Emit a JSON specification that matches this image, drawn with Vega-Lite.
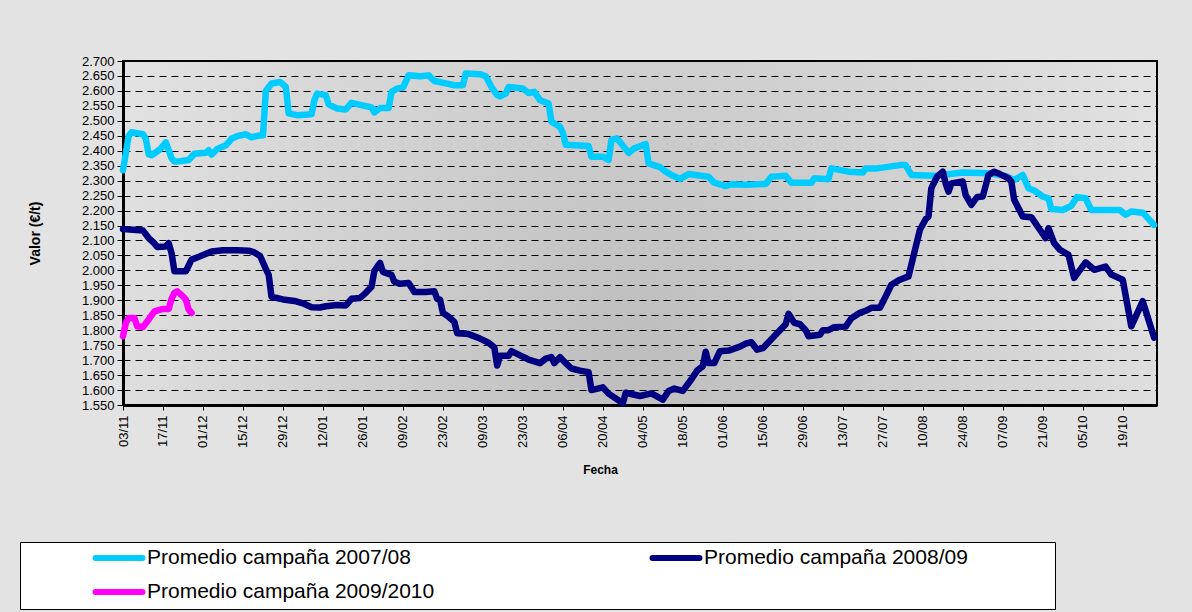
{
  "$schema": "https://vega.github.io/schema/vega-lite/v6.json",
  "width": 1034,
  "height": 344,
  "autosize": "none",
  "padding": {"left": 123, "top": 61, "right": 35, "bottom": 207},
  "background": "#e3e3e3",
  "view": {
    "stroke": "#000000",
    "strokeWidth": 2,
    "fill": {"gradient": "radial", "x1": 0.5, "y1": 0.62, "r1": 0, "x2": 0.5, "y2": 0.62, "r2": 0.62,
      "stops": [{"offset": 0, "color": "#bdbdbd"}, {"offset": 1, "color": "#e6e6e6"}]}
  },
  "config": {
    "font": "Liberation Sans",
    "locale": {"number": {"decimal": ",", "thousands": ".", "grouping": [3], "currency": ["", " €"]}}
  },
  "data": {
    "values": [
      {"serie": "Promedio campaña 2007/08", "fecha": "2008-11-03", "valor": 2335},
      {"serie": "Promedio campaña 2007/08", "fecha": "2008-11-05", "valor": 2450},
      {"serie": "Promedio campaña 2007/08", "fecha": "2008-11-06", "valor": 2462},
      {"serie": "Promedio campaña 2007/08", "fecha": "2008-11-10", "valor": 2455},
      {"serie": "Promedio campaña 2007/08", "fecha": "2008-11-11", "valor": 2440},
      {"serie": "Promedio campaña 2007/08", "fecha": "2008-11-12", "valor": 2388},
      {"serie": "Promedio campaña 2007/08", "fecha": "2008-11-13", "valor": 2385},
      {"serie": "Promedio campaña 2007/08", "fecha": "2008-11-16", "valor": 2405},
      {"serie": "Promedio campaña 2007/08", "fecha": "2008-11-18", "valor": 2428},
      {"serie": "Promedio campaña 2007/08", "fecha": "2008-11-20", "valor": 2375},
      {"serie": "Promedio campaña 2007/08", "fecha": "2008-11-21", "valor": 2364},
      {"serie": "Promedio campaña 2007/08", "fecha": "2008-11-23", "valor": 2365},
      {"serie": "Promedio campaña 2007/08", "fecha": "2008-11-26", "valor": 2369},
      {"serie": "Promedio campaña 2007/08", "fecha": "2008-11-28", "valor": 2390},
      {"serie": "Promedio campaña 2007/08", "fecha": "2008-12-02", "valor": 2393},
      {"serie": "Promedio campaña 2007/08", "fecha": "2008-12-03", "valor": 2402},
      {"serie": "Promedio campaña 2007/08", "fecha": "2008-12-04", "valor": 2387},
      {"serie": "Promedio campaña 2007/08", "fecha": "2008-12-06", "valor": 2406},
      {"serie": "Promedio campaña 2007/08", "fecha": "2008-12-09", "valor": 2418},
      {"serie": "Promedio campaña 2007/08", "fecha": "2008-12-11", "valor": 2440},
      {"serie": "Promedio campaña 2007/08", "fecha": "2008-12-13", "valor": 2449},
      {"serie": "Promedio campaña 2007/08", "fecha": "2008-12-16", "valor": 2455},
      {"serie": "Promedio campaña 2007/08", "fecha": "2008-12-18", "valor": 2445},
      {"serie": "Promedio campaña 2007/08", "fecha": "2008-12-20", "valor": 2450},
      {"serie": "Promedio campaña 2007/08", "fecha": "2008-12-22", "valor": 2452},
      {"serie": "Promedio campaña 2007/08", "fecha": "2008-12-23", "valor": 2600},
      {"serie": "Promedio campaña 2007/08", "fecha": "2008-12-25", "valor": 2625},
      {"serie": "Promedio campaña 2007/08", "fecha": "2008-12-28", "valor": 2630},
      {"serie": "Promedio campaña 2007/08", "fecha": "2008-12-30", "valor": 2613},
      {"serie": "Promedio campaña 2007/08", "fecha": "2008-12-31", "valor": 2525},
      {"serie": "Promedio campaña 2007/08", "fecha": "2009-01-03", "valor": 2519},
      {"serie": "Promedio campaña 2007/08", "fecha": "2009-01-08", "valor": 2522},
      {"serie": "Promedio campaña 2007/08", "fecha": "2009-01-09", "valor": 2569},
      {"serie": "Promedio campaña 2007/08", "fecha": "2009-01-10", "valor": 2591},
      {"serie": "Promedio campaña 2007/08", "fecha": "2009-01-13", "valor": 2586},
      {"serie": "Promedio campaña 2007/08", "fecha": "2009-01-14", "valor": 2555},
      {"serie": "Promedio campaña 2007/08", "fecha": "2009-01-17", "valor": 2541},
      {"serie": "Promedio campaña 2007/08", "fecha": "2009-01-20", "valor": 2538},
      {"serie": "Promedio campaña 2007/08", "fecha": "2009-01-22", "valor": 2560},
      {"serie": "Promedio campaña 2007/08", "fecha": "2009-01-27", "valor": 2549},
      {"serie": "Promedio campaña 2007/08", "fecha": "2009-01-29", "valor": 2545},
      {"serie": "Promedio campaña 2007/08", "fecha": "2009-01-30", "valor": 2528},
      {"serie": "Promedio campaña 2007/08", "fecha": "2009-02-01", "valor": 2543},
      {"serie": "Promedio campaña 2007/08", "fecha": "2009-02-04", "valor": 2543},
      {"serie": "Promedio campaña 2007/08", "fecha": "2009-02-05", "valor": 2597},
      {"serie": "Promedio campaña 2007/08", "fecha": "2009-02-07", "valor": 2608},
      {"serie": "Promedio campaña 2007/08", "fecha": "2009-02-09", "valor": 2611},
      {"serie": "Promedio campaña 2007/08", "fecha": "2009-02-11", "valor": 2652},
      {"serie": "Promedio campaña 2007/08", "fecha": "2009-02-15", "valor": 2649},
      {"serie": "Promedio campaña 2007/08", "fecha": "2009-02-18", "valor": 2652},
      {"serie": "Promedio campaña 2007/08", "fecha": "2009-02-20", "valor": 2633},
      {"serie": "Promedio campaña 2007/08", "fecha": "2009-02-24", "valor": 2625},
      {"serie": "Promedio campaña 2007/08", "fecha": "2009-02-27", "valor": 2619},
      {"serie": "Promedio campaña 2007/08", "fecha": "2009-03-02", "valor": 2619},
      {"serie": "Promedio campaña 2007/08", "fecha": "2009-03-03", "valor": 2658},
      {"serie": "Promedio campaña 2007/08", "fecha": "2009-03-08", "valor": 2656},
      {"serie": "Promedio campaña 2007/08", "fecha": "2009-03-10", "valor": 2649},
      {"serie": "Promedio campaña 2007/08", "fecha": "2009-03-12", "valor": 2613},
      {"serie": "Promedio campaña 2007/08", "fecha": "2009-03-14", "valor": 2586},
      {"serie": "Promedio campaña 2007/08", "fecha": "2009-03-15", "valor": 2582},
      {"serie": "Promedio campaña 2007/08", "fecha": "2009-03-17", "valor": 2591},
      {"serie": "Promedio campaña 2007/08", "fecha": "2009-03-18", "valor": 2613},
      {"serie": "Promedio campaña 2007/08", "fecha": "2009-03-23", "valor": 2608},
      {"serie": "Promedio campaña 2007/08", "fecha": "2009-03-25", "valor": 2593},
      {"serie": "Promedio campaña 2007/08", "fecha": "2009-03-27", "valor": 2597},
      {"serie": "Promedio campaña 2007/08", "fecha": "2009-03-29", "valor": 2569},
      {"serie": "Promedio campaña 2007/08", "fecha": "2009-04-01", "valor": 2558},
      {"serie": "Promedio campaña 2007/08", "fecha": "2009-04-02", "valor": 2497},
      {"serie": "Promedio campaña 2007/08", "fecha": "2009-04-05", "valor": 2480},
      {"serie": "Promedio campaña 2007/08", "fecha": "2009-04-06", "valor": 2460},
      {"serie": "Promedio campaña 2007/08", "fecha": "2009-04-07", "valor": 2420},
      {"serie": "Promedio campaña 2007/08", "fecha": "2009-04-15", "valor": 2416},
      {"serie": "Promedio campaña 2007/08", "fecha": "2009-04-16", "valor": 2380},
      {"serie": "Promedio campaña 2007/08", "fecha": "2009-04-20", "valor": 2380},
      {"serie": "Promedio campaña 2007/08", "fecha": "2009-04-22", "valor": 2369},
      {"serie": "Promedio campaña 2007/08", "fecha": "2009-04-23", "valor": 2436},
      {"serie": "Promedio campaña 2007/08", "fecha": "2009-04-25", "valor": 2441},
      {"serie": "Promedio campaña 2007/08", "fecha": "2009-04-29", "valor": 2393},
      {"serie": "Promedio campaña 2007/08", "fecha": "2009-05-01", "valor": 2408},
      {"serie": "Promedio campaña 2007/08", "fecha": "2009-05-05", "valor": 2422},
      {"serie": "Promedio campaña 2007/08", "fecha": "2009-05-06", "valor": 2358},
      {"serie": "Promedio campaña 2007/08", "fecha": "2009-05-10", "valor": 2345},
      {"serie": "Promedio campaña 2007/08", "fecha": "2009-05-12", "valor": 2330},
      {"serie": "Promedio campaña 2007/08", "fecha": "2009-05-14", "valor": 2319},
      {"serie": "Promedio campaña 2007/08", "fecha": "2009-05-17", "valor": 2306},
      {"serie": "Promedio campaña 2007/08", "fecha": "2009-05-20", "valor": 2322},
      {"serie": "Promedio campaña 2007/08", "fecha": "2009-05-27", "valor": 2313},
      {"serie": "Promedio campaña 2007/08", "fecha": "2009-05-29", "valor": 2293},
      {"serie": "Promedio campaña 2007/08", "fecha": "2009-06-02", "valor": 2282},
      {"serie": "Promedio campaña 2007/08", "fecha": "2009-06-04", "valor": 2288},
      {"serie": "Promedio campaña 2007/08", "fecha": "2009-06-09", "valor": 2286},
      {"serie": "Promedio campaña 2007/08", "fecha": "2009-06-16", "valor": 2289},
      {"serie": "Promedio campaña 2007/08", "fecha": "2009-06-18", "valor": 2313},
      {"serie": "Promedio campaña 2007/08", "fecha": "2009-06-23", "valor": 2316},
      {"serie": "Promedio campaña 2007/08", "fecha": "2009-06-25", "valor": 2293},
      {"serie": "Promedio campaña 2007/08", "fecha": "2009-07-02", "valor": 2293},
      {"serie": "Promedio campaña 2007/08", "fecha": "2009-07-03", "valor": 2308},
      {"serie": "Promedio campaña 2007/08", "fecha": "2009-07-08", "valor": 2305},
      {"serie": "Promedio campaña 2007/08", "fecha": "2009-07-09", "valor": 2341},
      {"serie": "Promedio campaña 2007/08", "fecha": "2009-07-15", "valor": 2330},
      {"serie": "Promedio campaña 2007/08", "fecha": "2009-07-20", "valor": 2327},
      {"serie": "Promedio campaña 2007/08", "fecha": "2009-07-21", "valor": 2341},
      {"serie": "Promedio campaña 2007/08", "fecha": "2009-07-25", "valor": 2341},
      {"serie": "Promedio campaña 2007/08", "fecha": "2009-08-02", "valor": 2352},
      {"serie": "Promedio campaña 2007/08", "fecha": "2009-08-04", "valor": 2352},
      {"serie": "Promedio campaña 2007/08", "fecha": "2009-08-06", "valor": 2319},
      {"serie": "Promedio campaña 2007/08", "fecha": "2009-08-14", "valor": 2316},
      {"serie": "Promedio campaña 2007/08", "fecha": "2009-08-24", "valor": 2327},
      {"serie": "Promedio campaña 2007/08", "fecha": "2009-09-02", "valor": 2325},
      {"serie": "Promedio campaña 2007/08", "fecha": "2009-09-08", "valor": 2316},
      {"serie": "Promedio campaña 2007/08", "fecha": "2009-09-11", "valor": 2302},
      {"serie": "Promedio campaña 2007/08", "fecha": "2009-09-14", "valor": 2319},
      {"serie": "Promedio campaña 2007/08", "fecha": "2009-09-16", "valor": 2275},
      {"serie": "Promedio campaña 2007/08", "fecha": "2009-09-18", "valor": 2267},
      {"serie": "Promedio campaña 2007/08", "fecha": "2009-09-21", "valor": 2247},
      {"serie": "Promedio campaña 2007/08", "fecha": "2009-09-23", "valor": 2241},
      {"serie": "Promedio campaña 2007/08", "fecha": "2009-09-24", "valor": 2205},
      {"serie": "Promedio campaña 2007/08", "fecha": "2009-09-28", "valor": 2202},
      {"serie": "Promedio campaña 2007/08", "fecha": "2009-10-01", "valor": 2216},
      {"serie": "Promedio campaña 2007/08", "fecha": "2009-10-03", "valor": 2245},
      {"serie": "Promedio campaña 2007/08", "fecha": "2009-10-06", "valor": 2241},
      {"serie": "Promedio campaña 2007/08", "fecha": "2009-10-08", "valor": 2202},
      {"serie": "Promedio campaña 2007/08", "fecha": "2009-10-18", "valor": 2202},
      {"serie": "Promedio campaña 2007/08", "fecha": "2009-10-20", "valor": 2186},
      {"serie": "Promedio campaña 2007/08", "fecha": "2009-10-22", "valor": 2197},
      {"serie": "Promedio campaña 2007/08", "fecha": "2009-10-26", "valor": 2193},
      {"serie": "Promedio campaña 2007/08", "fecha": "2009-10-30", "valor": 2152},

      {"serie": "Promedio campaña 2008/09", "fecha": "2008-11-03", "valor": 2138},
      {"serie": "Promedio campaña 2008/09", "fecha": "2008-11-10", "valor": 2133},
      {"serie": "Promedio campaña 2008/09", "fecha": "2008-11-12", "valor": 2108},
      {"serie": "Promedio campaña 2008/09", "fecha": "2008-11-14", "valor": 2090},
      {"serie": "Promedio campaña 2008/09", "fecha": "2008-11-15", "valor": 2078},
      {"serie": "Promedio campaña 2008/09", "fecha": "2008-11-18", "valor": 2080},
      {"serie": "Promedio campaña 2008/09", "fecha": "2008-11-19", "valor": 2091},
      {"serie": "Promedio campaña 2008/09", "fecha": "2008-11-20", "valor": 2058},
      {"serie": "Promedio campaña 2008/09", "fecha": "2008-11-21", "valor": 1997},
      {"serie": "Promedio campaña 2008/09", "fecha": "2008-11-25", "valor": 1997},
      {"serie": "Promedio campaña 2008/09", "fecha": "2008-11-27", "valor": 2036},
      {"serie": "Promedio campaña 2008/09", "fecha": "2008-11-30", "valor": 2047},
      {"serie": "Promedio campaña 2008/09", "fecha": "2008-12-04", "valor": 2063},
      {"serie": "Promedio campaña 2008/09", "fecha": "2008-12-08", "valor": 2067},
      {"serie": "Promedio campaña 2008/09", "fecha": "2008-12-13", "valor": 2067},
      {"serie": "Promedio campaña 2008/09", "fecha": "2008-12-17", "valor": 2066},
      {"serie": "Promedio campaña 2008/09", "fecha": "2008-12-19", "valor": 2060},
      {"serie": "Promedio campaña 2008/09", "fecha": "2008-12-21", "valor": 2048},
      {"serie": "Promedio campaña 2008/09", "fecha": "2008-12-23", "valor": 2005},
      {"serie": "Promedio campaña 2008/09", "fecha": "2008-12-24", "valor": 1985},
      {"serie": "Promedio campaña 2008/09", "fecha": "2008-12-25", "valor": 1912},
      {"serie": "Promedio campaña 2008/09", "fecha": "2008-12-29", "valor": 1903},
      {"serie": "Promedio campaña 2008/09", "fecha": "2009-01-02", "valor": 1898},
      {"serie": "Promedio campaña 2008/09", "fecha": "2009-01-05", "valor": 1890},
      {"serie": "Promedio campaña 2008/09", "fecha": "2009-01-08", "valor": 1877},
      {"serie": "Promedio campaña 2008/09", "fecha": "2009-01-11", "valor": 1876},
      {"serie": "Promedio campaña 2008/09", "fecha": "2009-01-13", "valor": 1880},
      {"serie": "Promedio campaña 2008/09", "fecha": "2009-01-17", "valor": 1884},
      {"serie": "Promedio campaña 2008/09", "fecha": "2009-01-20", "valor": 1883},
      {"serie": "Promedio campaña 2008/09", "fecha": "2009-01-22", "valor": 1905},
      {"serie": "Promedio campaña 2008/09", "fecha": "2009-01-25", "valor": 1908},
      {"serie": "Promedio campaña 2008/09", "fecha": "2009-01-27", "valor": 1925},
      {"serie": "Promedio campaña 2008/09", "fecha": "2009-01-29", "valor": 1945},
      {"serie": "Promedio campaña 2008/09", "fecha": "2009-01-30", "valor": 1998},
      {"serie": "Promedio campaña 2008/09", "fecha": "2009-02-01", "valor": 2025},
      {"serie": "Promedio campaña 2008/09", "fecha": "2009-02-02", "valor": 1995},
      {"serie": "Promedio campaña 2008/09", "fecha": "2009-02-05", "valor": 1985},
      {"serie": "Promedio campaña 2008/09", "fecha": "2009-02-06", "valor": 1962},
      {"serie": "Promedio campaña 2008/09", "fecha": "2009-02-08", "valor": 1955},
      {"serie": "Promedio campaña 2008/09", "fecha": "2009-02-11", "valor": 1958},
      {"serie": "Promedio campaña 2008/09", "fecha": "2009-02-13", "valor": 1928},
      {"serie": "Promedio campaña 2008/09", "fecha": "2009-02-17", "valor": 1928},
      {"serie": "Promedio campaña 2008/09", "fecha": "2009-02-20", "valor": 1930},
      {"serie": "Promedio campaña 2008/09", "fecha": "2009-02-21", "valor": 1905},
      {"serie": "Promedio campaña 2008/09", "fecha": "2009-02-22", "valor": 1902},
      {"serie": "Promedio campaña 2008/09", "fecha": "2009-02-23", "valor": 1858},
      {"serie": "Promedio campaña 2008/09", "fecha": "2009-02-25", "valor": 1845},
      {"serie": "Promedio campaña 2008/09", "fecha": "2009-02-27", "valor": 1828},
      {"serie": "Promedio campaña 2008/09", "fecha": "2009-02-28", "valor": 1790},
      {"serie": "Promedio campaña 2008/09", "fecha": "2009-03-04", "valor": 1787},
      {"serie": "Promedio campaña 2008/09", "fecha": "2009-03-08", "valor": 1772},
      {"serie": "Promedio campaña 2008/09", "fecha": "2009-03-11", "valor": 1758},
      {"serie": "Promedio campaña 2008/09", "fecha": "2009-03-13", "valor": 1742},
      {"serie": "Promedio campaña 2008/09", "fecha": "2009-03-14", "valor": 1682},
      {"serie": "Promedio campaña 2008/09", "fecha": "2009-03-15", "valor": 1715},
      {"serie": "Promedio campaña 2008/09", "fecha": "2009-03-18", "valor": 1715},
      {"serie": "Promedio campaña 2008/09", "fecha": "2009-03-19", "valor": 1730},
      {"serie": "Promedio campaña 2008/09", "fecha": "2009-03-22", "valor": 1716},
      {"serie": "Promedio campaña 2008/09", "fecha": "2009-03-25", "valor": 1702},
      {"serie": "Promedio campaña 2008/09", "fecha": "2009-03-29", "valor": 1690},
      {"serie": "Promedio campaña 2008/09", "fecha": "2009-03-31", "valor": 1705},
      {"serie": "Promedio campaña 2008/09", "fecha": "2009-04-02", "valor": 1710},
      {"serie": "Promedio campaña 2008/09", "fecha": "2009-04-03", "valor": 1690},
      {"serie": "Promedio campaña 2008/09", "fecha": "2009-04-05", "valor": 1710},
      {"serie": "Promedio campaña 2008/09", "fecha": "2009-04-07", "valor": 1690},
      {"serie": "Promedio campaña 2008/09", "fecha": "2009-04-09", "valor": 1672},
      {"serie": "Promedio campaña 2008/09", "fecha": "2009-04-12", "valor": 1665},
      {"serie": "Promedio campaña 2008/09", "fecha": "2009-04-15", "valor": 1660},
      {"serie": "Promedio campaña 2008/09", "fecha": "2009-04-16", "valor": 1600},
      {"serie": "Promedio campaña 2008/09", "fecha": "2009-04-20", "valor": 1609},
      {"serie": "Promedio campaña 2008/09", "fecha": "2009-04-22", "valor": 1588},
      {"serie": "Promedio campaña 2008/09", "fecha": "2009-04-27", "valor": 1556},
      {"serie": "Promedio campaña 2008/09", "fecha": "2009-04-28", "valor": 1591},
      {"serie": "Promedio campaña 2008/09", "fecha": "2009-05-03", "valor": 1580},
      {"serie": "Promedio campaña 2008/09", "fecha": "2009-05-07", "valor": 1589},
      {"serie": "Promedio campaña 2008/09", "fecha": "2009-05-11", "valor": 1568},
      {"serie": "Promedio campaña 2008/09", "fecha": "2009-05-13", "valor": 1597},
      {"serie": "Promedio campaña 2008/09", "fecha": "2009-05-15", "valor": 1605},
      {"serie": "Promedio campaña 2008/09", "fecha": "2009-05-18", "valor": 1597},
      {"serie": "Promedio campaña 2008/09", "fecha": "2009-05-21", "valor": 1636},
      {"serie": "Promedio campaña 2008/09", "fecha": "2009-05-23", "valor": 1665},
      {"serie": "Promedio campaña 2008/09", "fecha": "2009-05-25", "valor": 1680},
      {"serie": "Promedio campaña 2008/09", "fecha": "2009-05-26", "valor": 1728},
      {"serie": "Promedio campaña 2008/09", "fecha": "2009-05-27", "valor": 1690},
      {"serie": "Promedio campaña 2008/09", "fecha": "2009-05-29", "valor": 1690},
      {"serie": "Promedio campaña 2008/09", "fecha": "2009-05-31", "valor": 1730},
      {"serie": "Promedio campaña 2008/09", "fecha": "2009-06-03", "valor": 1732},
      {"serie": "Promedio campaña 2008/09", "fecha": "2009-06-07", "valor": 1745},
      {"serie": "Promedio campaña 2008/09", "fecha": "2009-06-09", "valor": 1755},
      {"serie": "Promedio campaña 2008/09", "fecha": "2009-06-11", "valor": 1760},
      {"serie": "Promedio campaña 2008/09", "fecha": "2009-06-13", "valor": 1735},
      {"serie": "Promedio campaña 2008/09", "fecha": "2009-06-15", "valor": 1740},
      {"serie": "Promedio campaña 2008/09", "fecha": "2009-06-17", "valor": 1760},
      {"serie": "Promedio campaña 2008/09", "fecha": "2009-06-21", "valor": 1800},
      {"serie": "Promedio campaña 2008/09", "fecha": "2009-06-23", "valor": 1820},
      {"serie": "Promedio campaña 2008/09", "fecha": "2009-06-24", "valor": 1855},
      {"serie": "Promedio campaña 2008/09", "fecha": "2009-06-26", "valor": 1825},
      {"serie": "Promedio campaña 2008/09", "fecha": "2009-06-28", "valor": 1820},
      {"serie": "Promedio campaña 2008/09", "fecha": "2009-06-30", "valor": 1800},
      {"serie": "Promedio campaña 2008/09", "fecha": "2009-07-01", "valor": 1780},
      {"serie": "Promedio campaña 2008/09", "fecha": "2009-07-05", "valor": 1785},
      {"serie": "Promedio campaña 2008/09", "fecha": "2009-07-06", "valor": 1800},
      {"serie": "Promedio campaña 2008/09", "fecha": "2009-07-08", "valor": 1800},
      {"serie": "Promedio campaña 2008/09", "fecha": "2009-07-10", "valor": 1810},
      {"serie": "Promedio campaña 2008/09", "fecha": "2009-07-14", "valor": 1812},
      {"serie": "Promedio campaña 2008/09", "fecha": "2009-07-16", "valor": 1840},
      {"serie": "Promedio campaña 2008/09", "fecha": "2009-07-19", "valor": 1858},
      {"serie": "Promedio campaña 2008/09", "fecha": "2009-07-21", "valor": 1865},
      {"serie": "Promedio campaña 2008/09", "fecha": "2009-07-23", "valor": 1875},
      {"serie": "Promedio campaña 2008/09", "fecha": "2009-07-26", "valor": 1875},
      {"serie": "Promedio campaña 2008/09", "fecha": "2009-07-28", "valor": 1913},
      {"serie": "Promedio campaña 2008/09", "fecha": "2009-07-30", "valor": 1952},
      {"serie": "Promedio campaña 2008/09", "fecha": "2009-08-02", "valor": 1969},
      {"serie": "Promedio campaña 2008/09", "fecha": "2009-08-05", "valor": 1980},
      {"serie": "Promedio campaña 2008/09", "fecha": "2009-08-07", "valor": 2058},
      {"serie": "Promedio campaña 2008/09", "fecha": "2009-08-09", "valor": 2136},
      {"serie": "Promedio campaña 2008/09", "fecha": "2009-08-11", "valor": 2171},
      {"serie": "Promedio campaña 2008/09", "fecha": "2009-08-12", "valor": 2180},
      {"serie": "Promedio campaña 2008/09", "fecha": "2009-08-13", "valor": 2275},
      {"serie": "Promedio campaña 2008/09", "fecha": "2009-08-15", "valor": 2313},
      {"serie": "Promedio campaña 2008/09", "fecha": "2009-08-17", "valor": 2330},
      {"serie": "Promedio campaña 2008/09", "fecha": "2009-08-18", "valor": 2291},
      {"serie": "Promedio campaña 2008/09", "fecha": "2009-08-19", "valor": 2263},
      {"serie": "Promedio campaña 2008/09", "fecha": "2009-08-20", "valor": 2291},
      {"serie": "Promedio campaña 2008/09", "fecha": "2009-08-24", "valor": 2297},
      {"serie": "Promedio campaña 2008/09", "fecha": "2009-08-25", "valor": 2252},
      {"serie": "Promedio campaña 2008/09", "fecha": "2009-08-27", "valor": 2219},
      {"serie": "Promedio campaña 2008/09", "fecha": "2009-08-29", "valor": 2245},
      {"serie": "Promedio campaña 2008/09", "fecha": "2009-08-31", "valor": 2247},
      {"serie": "Promedio campaña 2008/09", "fecha": "2009-09-02", "valor": 2319},
      {"serie": "Promedio campaña 2008/09", "fecha": "2009-09-04", "valor": 2330},
      {"serie": "Promedio campaña 2008/09", "fecha": "2009-09-06", "valor": 2322},
      {"serie": "Promedio campaña 2008/09", "fecha": "2009-09-09", "valor": 2308},
      {"serie": "Promedio campaña 2008/09", "fecha": "2009-09-10", "valor": 2297},
      {"serie": "Promedio campaña 2008/09", "fecha": "2009-09-11", "valor": 2236},
      {"serie": "Promedio campaña 2008/09", "fecha": "2009-09-14", "valor": 2180},
      {"serie": "Promedio campaña 2008/09", "fecha": "2009-09-17", "valor": 2178},
      {"serie": "Promedio campaña 2008/09", "fecha": "2009-09-20", "valor": 2136},
      {"serie": "Promedio campaña 2008/09", "fecha": "2009-09-22", "valor": 2108},
      {"serie": "Promedio campaña 2008/09", "fecha": "2009-09-23", "valor": 2141},
      {"serie": "Promedio campaña 2008/09", "fecha": "2009-09-25", "valor": 2091},
      {"serie": "Promedio campaña 2008/09", "fecha": "2009-09-27", "valor": 2069},
      {"serie": "Promedio campaña 2008/09", "fecha": "2009-09-30", "valor": 2052},
      {"serie": "Promedio campaña 2008/09", "fecha": "2009-10-02", "valor": 1975},
      {"serie": "Promedio campaña 2008/09", "fecha": "2009-10-06", "valor": 2027},
      {"serie": "Promedio campaña 2008/09", "fecha": "2009-10-09", "valor": 2002},
      {"serie": "Promedio campaña 2008/09", "fecha": "2009-10-13", "valor": 2013},
      {"serie": "Promedio campaña 2008/09", "fecha": "2009-10-15", "valor": 1986},
      {"serie": "Promedio campaña 2008/09", "fecha": "2009-10-19", "valor": 1969},
      {"serie": "Promedio campaña 2008/09", "fecha": "2009-10-22", "valor": 1813},
      {"serie": "Promedio campaña 2008/09", "fecha": "2009-10-26", "valor": 1897},
      {"serie": "Promedio campaña 2008/09", "fecha": "2009-10-30", "valor": 1775},

      {"serie": "Promedio campaña 2009/2010", "fecha": "2008-11-03", "valor": 1780},
      {"serie": "Promedio campaña 2009/2010", "fecha": "2008-11-04", "valor": 1825},
      {"serie": "Promedio campaña 2009/2010", "fecha": "2008-11-05", "valor": 1841},
      {"serie": "Promedio campaña 2009/2010", "fecha": "2008-11-07", "valor": 1841},
      {"serie": "Promedio campaña 2009/2010", "fecha": "2008-11-08", "valor": 1813},
      {"serie": "Promedio campaña 2009/2010", "fecha": "2008-11-10", "valor": 1811},
      {"serie": "Promedio campaña 2009/2010", "fecha": "2008-11-12", "valor": 1836},
      {"serie": "Promedio campaña 2009/2010", "fecha": "2008-11-14", "valor": 1863},
      {"serie": "Promedio campaña 2009/2010", "fecha": "2008-11-17", "valor": 1871},
      {"serie": "Promedio campaña 2009/2010", "fecha": "2008-11-19", "valor": 1871},
      {"serie": "Promedio campaña 2009/2010", "fecha": "2008-11-20", "valor": 1905},
      {"serie": "Promedio campaña 2009/2010", "fecha": "2008-11-21", "valor": 1925},
      {"serie": "Promedio campaña 2009/2010", "fecha": "2008-11-22", "valor": 1930},
      {"serie": "Promedio campaña 2009/2010", "fecha": "2008-11-24", "valor": 1913},
      {"serie": "Promedio campaña 2009/2010", "fecha": "2008-11-25", "valor": 1902},
      {"serie": "Promedio campaña 2009/2010", "fecha": "2008-11-26", "valor": 1869},
      {"serie": "Promedio campaña 2009/2010", "fecha": "2008-11-27", "valor": 1858}
    ]
  },
  "mark": {"type": "line", "strokeWidth": 6.5, "strokeCap": "round", "strokeJoin": "round"},
  "encoding": {
    "x": {
      "field": "fecha",
      "type": "temporal",
      "scale": {
        "type": "utc",
        "domain": [{"year": 2008, "month": 11, "date": 3, "utc": true}, {"year": 2009, "month": 10, "date": 31, "utc": true}]
      },
      "axis": {
        "values": [
          {"year": 2008, "month": 11, "date": 3, "utc": true},
          {"year": 2008, "month": 11, "date": 17, "utc": true},
          {"year": 2008, "month": 12, "date": 1, "utc": true},
          {"year": 2008, "month": 12, "date": 15, "utc": true},
          {"year": 2008, "month": 12, "date": 29, "utc": true},
          {"year": 2009, "month": 1, "date": 12, "utc": true},
          {"year": 2009, "month": 1, "date": 26, "utc": true},
          {"year": 2009, "month": 2, "date": 9, "utc": true},
          {"year": 2009, "month": 2, "date": 23, "utc": true},
          {"year": 2009, "month": 3, "date": 9, "utc": true},
          {"year": 2009, "month": 3, "date": 23, "utc": true},
          {"year": 2009, "month": 4, "date": 6, "utc": true},
          {"year": 2009, "month": 4, "date": 20, "utc": true},
          {"year": 2009, "month": 5, "date": 4, "utc": true},
          {"year": 2009, "month": 5, "date": 18, "utc": true},
          {"year": 2009, "month": 6, "date": 1, "utc": true},
          {"year": 2009, "month": 6, "date": 15, "utc": true},
          {"year": 2009, "month": 6, "date": 29, "utc": true},
          {"year": 2009, "month": 7, "date": 13, "utc": true},
          {"year": 2009, "month": 7, "date": 27, "utc": true},
          {"year": 2009, "month": 8, "date": 10, "utc": true},
          {"year": 2009, "month": 8, "date": 24, "utc": true},
          {"year": 2009, "month": 9, "date": 7, "utc": true},
          {"year": 2009, "month": 9, "date": 21, "utc": true},
          {"year": 2009, "month": 10, "date": 5, "utc": true},
          {"year": 2009, "month": 10, "date": 19, "utc": true}
        ],
        "format": "%d/%m",
        "labelAngle": 270,
        "labelFontSize": 13,
        "labelColor": "#000000",
        "labelPadding": 5,
        "labelOverlap": false,
        "labelFlush": false,
        "tickSize": 5,
        "tickColor": "#000000",
        "domainColor": "#000000",
        "domainWidth": 3,
        "grid": false,
        "title": "Fecha",
        "titleFontSize": 12,
        "titleFontWeight": "bold",
        "titleColor": "#000000",
        "titleX": 477,
        "titleY": 64,
        "titleAlign": "center",
        "titleBaseline": "middle"
      }
    },
    "y": {
      "field": "valor",
      "type": "quantitative",
      "scale": {"domain": [1550, 2700], "nice": false, "zero": false},
      "axis": {
        "values": [1550, 1600, 1650, 1700, 1750, 1800, 1850, 1900, 1950, 2000, 2050, 2100, 2150, 2200, 2250, 2300, 2350, 2400, 2450, 2500, 2550, 2600, 2650, 2700],
        "format": ",.0f",
        "labelFontSize": 13,
        "labelColor": "#000000",
        "labelPadding": 3,
        "labelOverlap": false,
        "labelFlush": false,
        "tickSize": 6,
        "tickColor": "#000000",
        "domainColor": "#000000",
        "domainWidth": 3,
        "grid": true,
        "gridColor": "#000000",
        "gridDash": [7, 5],
        "gridWidth": 1,
        "gridOpacity": 1,
        "title": "Valor (€/t)",
        "titleFontSize": 14,
        "titleFontWeight": "bold",
        "titleColor": "#000000",
        "titleAngle": 270,
        "titleX": -88,
        "titleY": 172,
        "titleAlign": "center",
        "titleBaseline": "middle"
      }
    },
    "color": {
      "field": "serie",
      "type": "nominal",
      "scale": {
        "domain": ["Promedio campaña 2007/08", "Promedio campaña 2008/09", "Promedio campaña 2009/2010"],
        "range": ["#00ccff", "#000080", "#ff00ff"]
      },
      "legend": {
        "orient": "none",
        "direction": "horizontal",
        "legendX": -103,
        "legendY": 481,
        "columns": 2,
        "title": " ",
        "titleOrient": "left",
        "titleFontSize": 1,
        "titlePadding": 67,
        "padding": 5,
        "fillColor": "#ffffff",
        "strokeColor": "#000000",
        "cornerRadius": 0,
        "symbolType": "M-3,0H3",
        "symbolSize": 245,
        "symbolStrokeWidth": 6,
        "symbolOffset": 16,
        "labelFont": "Liberation Sans",
        "labelFontSize": 21,
        "labelColor": "#000000",
        "labelLimit": 1000,
        "labelOffset": 17,
        "columnPadding": 205,
        "rowPadding": 10,
        "labelExpr": "datum.label == 'Promedio campaña 2008/09' ? datum.label + '              \u200b' : datum.label",
        "encode": {"symbols": {"update": {"strokeCap": {"value": "round"}}}}
      }
    }
  }
}
